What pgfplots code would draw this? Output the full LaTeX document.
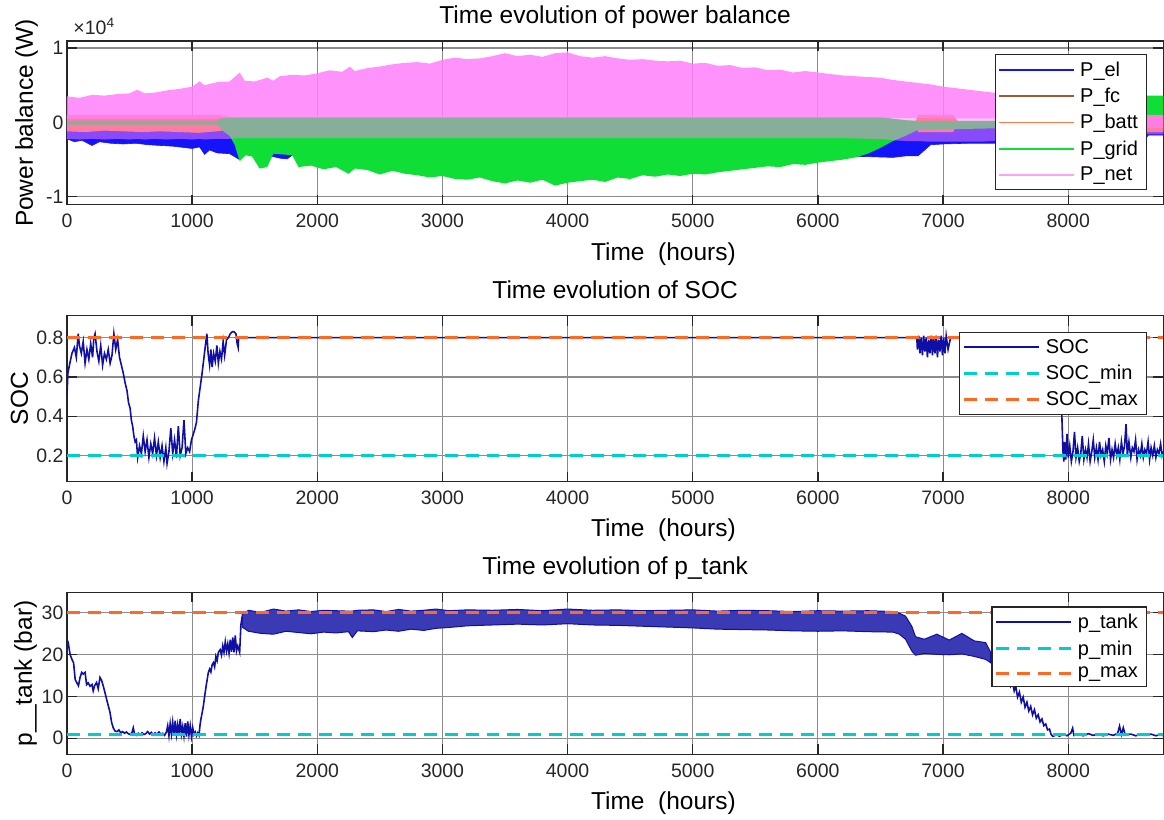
\documentclass[border=0pt]{standalone}
\usepackage{fontspec}
\setmainfont{Liberation Sans}
\usepackage{pgfplots}
\usepgfplotslibrary{fillbetween}
\pgfplotsset{compat=1.18}
\usepackage{pgfplotstable}

\definecolor{colel}{RGB}{20,20,250}
\definecolor{colfc}{RGB}{150,95,55}
\definecolor{colbatt}{RGB}{255,120,70}
\definecolor{colgrid}{RGB}{15,222,55}
\definecolor{colnet}{RGB}{255,128,250}
\definecolor{dkblue}{RGB}{15,15,165}
\definecolor{mincyan}{RGB}{0,205,205}
\definecolor{maxorange}{RGB}{255,105,35}

\newcommand\tickfont{\fontsize{19.5}{23}\selectfont}
\newcommand\labfont{\fontsize{24.5}{29}\selectfont}
\newcommand\legfont{\fontsize{20}{24}\selectfont}

% envelopes of the densely oscillating power series (W)
\pgfplotstableread{
t hi lo
0 0 -2200
60 0 -2600
120 0 -2400
200 0 -3100
260 0 -2600
350 0 -2800
450 0 -2900
550 0 -2800
650 0 -3000
750 0 -3100
850 0 -3200
950 0 -3400
1000 0 -3500
1060 0 -3300
1100 0 -4300
1140 0 -3700
1200 0 -4100
1300 0 -4200
1380 0 -5000
1420 0 -4300
1500 0 -4500
1600 0 -4400
1700 0 -4800
1760 0 -4900
1800 0 -4400
1900 0 -4000
2000 0 -4000
3000 0 -4000
4000 0 -4000
5000 0 -4000
5800 0 -4000
6000 0 -4300
6200 0 -4500
6400 0 -4600
6600 0 -4700
6700 0 -4500
6800 0 -4500
6900 0 -3000
7000 0 -2900
7200 0 -2800
7400 0 -2800
8000 0 -2800
8600 0 -2600
8640 0 -1700
8760 0 -1700
}\pel

\pgfplotstableread{
t hi lo
0 300 -300
1200 300 -300
}\pfc

\pgfplotstableread{
t hi lo
0 1000 -1200
150 1000 -1300
300 1000 -1100
450 1000 -1200
600 1000 -1300
750 1000 -1200
900 1000 -1300
1050 1000 -1400
1200 1000 -1200
1280 800 -1000
1350 100 -100
6780 100 -100
6800 1000 -1300
7080 1000 -1300
7120 100 -100
7930 100 -100
7960 1000 -1300
8760 1000 -1300
}\pbatt

\pgfplotstableread{
t hi lo
0 200 -300
1200 200 -300
1250 700 -1200
1300 700 -1800
1340 700 -3000
1380 700 -5200
1430 700 -4400
1480 700 -4600
1540 700 -6200
1600 700 -6000
1650 700 -4200
1720 700 -4300
1800 700 -4400
1850 700 -6000
1950 700 -5800
2050 700 -6300
2150 700 -6000
2250 700 -6900
2300 700 -6200
2400 700 -6400
2500 700 -7000
2600 700 -6500
2700 700 -6900
2800 700 -7100
2900 700 -7400
3000 700 -7200
3100 700 -7600
3200 700 -7700
3300 700 -7400
3400 700 -7900
3500 700 -8200
3600 700 -7800
3700 700 -8100
3800 700 -7700
3900 700 -8500
4000 700 -8100
4100 700 -7900
4200 700 -7700
4300 700 -8000
4400 700 -7400
4500 700 -7600
4600 700 -7100
4700 700 -7300
4800 700 -7000
4900 700 -7200
5000 700 -6900
5100 700 -7000
5200 700 -6700
5300 700 -6500
5400 700 -6300
5500 700 -6100
5600 700 -5900
5700 700 -6000
5800 700 -5600
5900 700 -5700
6000 700 -5400
6100 700 -5200
6200 700 -5000
6300 700 -4700
6400 700 -4200
6500 700 -3400
6600 500 -2500
6700 300 -1800
6800 200 -1000
8300 200 -500
8620 3600 1000
8760 3600 1000
}\pgrid

\pgfplotstableread{
t hi lo slo
0 3500 400 -2200
100 3300 400 -2300
200 3700 400 -2200
300 3600 400 -2300
400 3800 400 -2200
500 3900 400 -2300
560 4400 400 -2200
620 3900 400 -2300
700 4000 400 -2200
800 4300 400 -2300
900 4500 400 -2200
1000 4800 400 -2300
1060 5500 400 -2200
1100 5000 400 -2300
1200 5400 500 -2200
1300 5500 600 -2200
1380 6700 600 -2100
1420 5600 600 -2100
1500 5500 600 -2100
1600 6000 600 -2100
1650 5600 600 -2100
1700 6200 600 -2100
1800 6400 600 -2100
1900 6300 600 -2100
2000 6600 600 -2100
2100 7000 600 -2100
2200 6800 600 -2100
2260 7500 600 -2100
2300 6900 600 -2100
2400 7300 600 -2100
2500 7500 600 -2100
2600 7800 600 -2100
2700 8000 600 -2100
2800 8100 600 -2100
2900 7900 600 -2100
3000 8400 600 -2100
3100 8700 600 -2100
3200 8500 600 -2100
3300 8600 600 -2100
3400 8900 600 -2100
3500 9300 600 -2100
3600 8900 600 -2100
3700 9100 600 -2100
3800 8800 600 -2100
3900 9300 600 -2100
4000 9400 600 -2100
4100 8900 600 -2100
4200 8700 600 -2100
4300 8900 600 -2100
4400 8600 600 -2100
4500 8400 600 -2100
4600 8500 600 -2100
4700 8300 600 -2100
4800 8200 600 -2100
4900 8300 600 -2100
5000 7900 600 -2100
5100 8000 600 -2100
5200 7600 600 -2100
5300 7700 600 -2100
5400 7300 600 -2100
5500 7400 600 -2100
5600 7000 600 -2100
5700 7100 600 -2100
5800 6700 600 -2100
5900 6900 600 -2100
6000 6700 600 -2100
6200 6300 600 -2100
6400 6100 600 -2200
6500 6000 600 -2200
6600 5700 600 -2400
6700 5500 600 -2500
6800 5300 600 -2500
6900 5100 600 -2600
7000 4800 500 -2600
7100 4600 500 -2600
7200 4400 500 -2600
7300 4200 500 -2600
7400 4000 500 -2500
7600 3700 500 -2000
8000 3300 500 -1600
8500 3000 500 -1600
8620 1000 -800 -1600
8760 1000 -800 -1600
}\pnet

% dense part of the tank pressure (bar)
\pgfplotstableread{
t hi lo
1400 29.5 26.5
1450 30.5 25.5
1550 30.0 25.0
1650 30.8 24.8
1750 30.3 25.5
1850 30.6 25.2
1950 30.2 24.9
2050 30.5 25.3
2150 30.4 25.1
2250 30.3 25.4
2280 30.3 24.0
2320 30.5 25.6
2450 30.6 25.4
2550 30.2 25.8
2650 30.7 25.5
2750 30.3 26.0
2850 30.5 25.7
2950 30.8 26.2
3050 30.4 26.4
3200 30.6 26.8
3400 30.5 27.0
3600 30.7 27.2
3800 30.4 27.0
4000 30.8 27.3
4200 30.5 27.0
4400 30.6 26.9
4600 30.4 26.7
4800 30.5 26.5
5000 30.6 26.3
5200 30.3 26.0
5400 30.5 25.9
5600 30.4 25.8
5800 30.2 25.6
6000 30.4 25.5
6200 30.3 25.6
6400 30.4 25.4
6600 30.2 25.3
6650 29.8 24.8
6700 29.1 23.6
6750 26.7 20.8
6780 24.2 19.8
6850 23.6 20.2
6950 24.8 20.0
7050 23.4 19.9
7150 25.0 20.1
7250 23.2 19.5
7340 22.8 18.8
7380 20.5 18.0
}\ptband

\pgfplotsset{
  matlab/.style={
    scale only axis, width=1097.6pt,
    xmin=0, xmax=8760, xtick={0,1000,...,8000},
    scaled x ticks=false,
    /pgf/number format/1000 sep={},
    /pgf/number format/assume math mode=true,
    grid=major,
    major grid style={black!45, line width=1.1pt},
    axis line style={black!85, line width=1.3pt},
    tick style={black!85, line width=1.3pt},
    major tick length=10pt,
    tick label style={font=\tickfont, text=black!85},
    xticklabel style={yshift=-6pt},
    label style={font=\labfont},
    title style={font=\labfont},
    every axis y label/.style={rotate=90, anchor=base, font=\labfont},
    legend cell align=left,
    legend style={draw=black!85, line width=1.3pt, fill=white, font=\legfont,
      text=black, anchor=north east, nodes={inner sep=5.2pt}, row sep=0pt},
    legend image code/.code={\draw[##1] (0pt,0pt) -- (75pt,0pt);},
  }
}

\begin{document}
\begin{tikzpicture}

% ---------------- power balance ----------------
\begin{axis}[matlab, name=top, axis on top, at={(67pt,-41pt)}, anchor=north west,
  height=164pt, ymin=-11070, ymax=10940, ytick={-10000,0,10000},
  scaled y ticks=base 10:-4, ytick scale label code/.code={},
  title={Time evolution of power balance},
  title style={at={(axis description cs:0.5,1.070)}, anchor=base},
  xlabel={Time~~(hours)},
  xlabel style={at={(axis description cs:0.544,-0.338)}, anchor=base},
  ylabel={Power balance (W)},
  ylabel style={at={(axis description cs:-0.031,0.5)}},
  legend style={at={(axis description cs:0.9849,0.9207)}}]
\addplot[draw=none, forget plot, name path=elh] table[x=t,y=hi]{\pel};
\addplot[draw=none, forget plot, name path=ell] table[x=t,y=lo]{\pel};
\addplot[fill=colel, draw=colel, line width=0.6pt, forget plot] fill between[of=elh and ell];
\addplot[draw=none, forget plot, name path=fch] table[x=t,y=hi]{\pfc};
\addplot[draw=none, forget plot, name path=fcl] table[x=t,y=lo]{\pfc};
\addplot[fill=colfc, draw=none, forget plot] fill between[of=fch and fcl];
\addplot[draw=none, forget plot, name path=bah] table[x=t,y=hi]{\pbatt};
\addplot[draw=none, forget plot, name path=bal] table[x=t,y=lo]{\pbatt};
\addplot[fill=colbatt, draw=none, forget plot] fill between[of=bah and bal];
\addplot[draw=none, forget plot, name path=grh] table[x=t,y=hi]{\pgrid};
\addplot[draw=none, forget plot, name path=grl] table[x=t,y=lo]{\pgrid};
\addplot[fill=colgrid, draw=none, forget plot] fill between[of=grh and grl];
\addplot[draw=none, forget plot, name path=neh] table[x=t,y=hi]{\pnet};
\addplot[draw=none, forget plot, name path=nel] table[x=t,y=lo]{\pnet};
\addplot[draw=none, forget plot, name path=nes] table[x=t,y=slo]{\pnet};
\addplot[fill=colnet, fill opacity=0.5, draw=none, forget plot] fill between[of=nel and nes];
\addplot[fill=colnet, fill opacity=0.85, draw=none, forget plot] fill between[of=neh and nel];
\addlegendimage{draw=colel, line width=1.6pt}\addlegendentry{P\_el}
\addlegendimage{draw=colfc, line width=1.6pt}\addlegendentry{P\_fc}
\addlegendimage{draw=colbatt, line width=1.6pt}\addlegendentry{P\_batt}
\addlegendimage{draw=colgrid, line width=1.6pt}\addlegendentry{P\_grid}
\addlegendimage{draw=colnet!75!white, line width=1.6pt}\addlegendentry{P\_net}
\end{axis}
\node[anchor=base west, font=\tickfont, text=black!85, xshift=3pt, yshift=6pt] at (top.north west) {×10\textsuperscript{4}};

% ---------------- SOC ----------------
\begin{axis}[matlab, at={(67pt,-316pt)}, anchor=north west,
  height=166pt, ymin=0.068, ymax=0.912, ytick={0.2,0.4,0.6,0.8},
  title={Time evolution of SOC},
  title style={at={(axis description cs:0.5,1.069)}, anchor=base},
  xlabel={Time~~(hours)},
  xlabel style={at={(axis description cs:0.544,-0.334)}, anchor=base},
  ylabel={SOC},
  ylabel style={at={(axis description cs:-0.0356,0.5)}},
  legend style={at={(axis description cs:0.9849,0.9036)}}]
\addplot[dkblue, line width=1.6pt] coordinates {
(0,0.50) (8,0.62) (20,0.66) (40,0.72) (60,0.75) (75,0.70) (90,0.82) (100,0.76)
(115,0.72) (130,0.78) (145,0.67) (160,0.74) (175,0.69) (190,0.77) (205,0.70)
(215,0.80) (225,0.82) (240,0.73) (255,0.68) (270,0.76) (285,0.66) (300,0.72)
(315,0.69) (330,0.74) (345,0.67) (360,0.71) (375,0.82) (390,0.74) (405,0.79)
(420,0.70) (435,0.66) (450,0.62) (465,0.57) (480,0.53) (492,0.47) (505,0.44)
(515,0.38) (525,0.35) (535,0.30) (545,0.27) (555,0.28) (565,0.19) (580,0.25)
(595,0.21) (610,0.30) (625,0.22) (640,0.28) (655,0.19) (670,0.26) (685,0.21)
(700,0.29) (715,0.20) (730,0.27) (745,0.19) (760,0.25) (775,0.17) (790,0.24)
(800,0.16) (815,0.22) (830,0.34) (845,0.21) (860,0.28) (875,0.19) (890,0.35)
(905,0.20) (920,0.24) (935,0.38) (950,0.21) (965,0.24) (980,0.22) (995,0.28)
(1005,0.30) (1020,0.33) (1035,0.37) (1050,0.48) (1065,0.55) (1080,0.62)
(1095,0.70) (1110,0.78) (1118,0.82) (1128,0.72) (1140,0.66) (1150,0.74)
(1160,0.65) (1172,0.72) (1185,0.68) (1198,0.76) (1210,0.67) (1222,0.73)
(1235,0.69) (1248,0.78) (1260,0.71) (1275,0.79) (1290,0.80) (1305,0.82)
(1320,0.83) (1335,0.83) (1350,0.82) (1360,0.77) (1368,0.75) (1372,0.80)
(6790,0.80) (6795,0.74) (6805,0.81) (6815,0.72) (6825,0.80) (6835,0.71)
(6845,0.81) (6855,0.73) (6865,0.80) (6875,0.70) (6885,0.79) (6895,0.72)
(6905,0.81) (6915,0.71) (6925,0.80) (6935,0.72) (6945,0.81) (6955,0.70)
(6965,0.79) (6975,0.73) (6985,0.81) (6995,0.71) (7005,0.80) (7015,0.72)
(7025,0.81) (7040,0.74) (7060,0.80) (7940,0.80) (7950,0.38) (7958,0.22)
(7965,0.17) (7970,0.27) (7980,0.18) (7990,0.31) (8000,0.19) (8012,0.25)
(8025,0.17) (8038,0.22) (8050,0.32) (8062,0.19) (8075,0.24) (8088,0.17)
(8100,0.21) (8112,0.30) (8125,0.18) (8138,0.23) (8150,0.19) (8162,0.26)
(8175,0.17) (8188,0.22) (8200,0.28) (8212,0.19) (8225,0.24) (8238,0.18)
(8250,0.27) (8262,0.20) (8275,0.23) (8288,0.17) (8300,0.25) (8312,0.21)
(8325,0.29) (8338,0.18) (8350,0.23) (8362,0.19) (8375,0.26) (8388,0.20)
(8400,0.24) (8412,0.18) (8425,0.27) (8438,0.21) (8450,0.25) (8462,0.36)
(8472,0.20) (8485,0.27) (8500,0.19) (8512,0.24) (8525,0.22) (8538,0.28)
(8550,0.18) (8562,0.23) (8575,0.20) (8588,0.26) (8600,0.19) (8612,0.23)
(8625,0.21) (8638,0.27) (8650,0.18) (8662,0.24) (8675,0.20) (8688,0.25)
(8700,0.19) (8712,0.23) (8725,0.21) (8738,0.26) (8750,0.20) (8760,0.22)
};
\addlegendentry{SOC}
\addplot[mincyan, line width=3pt, dash pattern=on 13pt off 8pt] coordinates {(0,0.2) (8760,0.2)};
\addlegendentry{SOC\_min}
\addplot[maxorange, line width=3pt, dash pattern=on 13pt off 8pt] coordinates {(0,0.8) (8760,0.8)};
\addlegendentry{SOC\_max}
\end{axis}

% ---------------- tank pressure ----------------
\begin{axis}[matlab, at={(67pt,-593pt)}, anchor=north west,
  height=162pt, ymin=-3.8, ymax=34.76, ytick={0,10,20,30},
  title={Time evolution of p\_tank},
  title style={at={(axis description cs:0.5,1.071)}, anchor=base},
  xlabel={Time~~(hours)},
  xlabel style={at={(axis description cs:0.544,-0.343)}, anchor=base},
  ylabel={p\_\_tank (bar)},
  ylabel style={at={(axis description cs:-0.0319,0.5)}},
  legend style={at={(axis description cs:0.9849,0.9136)}}]
\addplot[draw=none, forget plot, name path=tkh] table[x=t,y=hi]{\ptband};
\addplot[draw=none, forget plot, name path=tkl] table[x=t,y=lo]{\ptband};
\addplot[fill=dkblue!82!white, draw=dkblue, line width=1pt, forget plot] fill between[of=tkh and tkl];
\addplot[dkblue, line width=1.6pt] coordinates {
(0,23.6) (10,22.8) (25,20) (40,18.8) (53,18) (66,14) (80,13.2) (92,12.5)
(105,14.5) (118,15.7) (130,15.3) (145,15.7) (157,12.8) (170,13.2) (185,12.4)
(200,12.8) (210,11.3) (222,12.6) (237,13.3) (250,11.8) (264,14.5) (277,13.8)
(290,12.5) (303,11) (317,9.3) (330,7.8) (344,6.2) (357,3.8) (370,2.5) (384,1.75)
(400,1.6) (415,2.0) (430,1.3) (445,1.6) (460,1.2) (475,1.5) (490,1.1) (505,0.9)
(520,1.4) (530,2.5) (540,1.0) (555,0.7) (570,1.2) (585,0.8) (600,1.3) (615,0.9)
(630,1.1) (645,1.6) (660,1.0) (675,1.4) (690,0.8) (705,1.3) (720,0.9) (735,1.5)
(750,1.0) (765,1.2) (780,0.7) (795,1.5) (805,3.0) (815,0.6) (825,3.5) (835,1.0)
(845,3.8) (855,0.8) (865,4.2) (875,0.9) (885,3.2) (895,0.7) (905,4.6) (915,1.0)
(925,2.8) (935,0.5) (945,3.6) (955,0.4) (965,4.0) (975,0.8) (985,3.0) (995,0.4)
(1005,2.5) (1015,0.9) (1025,1.5) (1035,0.6) (1045,1.3) (1055,0.7) (1064,3.3)
(1070,4.5) (1080,6) (1090,7.7) (1104,10.8) (1115,13) (1130,15.7) (1140,16.5)
(1150,15.8) (1160,17.5) (1170,18) (1180,17) (1190,19.5) (1200,18.5) (1210,20.5)
(1224,21.1) (1235,19.8) (1245,22) (1255,20.5) (1265,23) (1275,20.8) (1285,22.5)
(1295,20.3) (1305,23.5) (1315,20.6) (1325,24) (1335,20.5) (1345,24.5)
(1355,20.8) (1365,22) (1380,20.5) (1390,27) (1400,29)
};
\addlegendentry{p\_tank}
\addplot[dkblue, line width=1.6pt, forget plot] coordinates {
(7380,19) (7400,20.5) (7420,17.5) (7440,19) (7460,16) (7480,17.5) (7500,14.5)
(7520,16) (7540,12.5) (7555,13.5) (7568,11.3) (7580,12.5) (7595,9.8) (7610,11)
(7625,8.6) (7640,9.8) (7655,7.4) (7670,8.6) (7685,6.5) (7700,7.6) (7715,5.6)
(7730,6.8) (7745,4.8) (7760,5.6) (7775,3.9) (7790,4.6) (7805,3.0) (7820,3.4)
(7835,2.0) (7850,2.2) (7862,1.0) (7875,0.5) (7890,0.6) (7905,0.9) (7930,0.5)
(7960,1.0) (7990,0.6) (8020,1.2) (8035,2.4) (8045,0.7) (8080,1.0) (8120,0.6)
(8160,1.1) (8200,0.7) (8240,1.0) (8280,0.6) (8320,1.0) (8360,0.7) (8395,1.2)
(8410,2.9) (8425,0.9) (8440,2.5) (8455,0.8) (8500,1.0) (8540,0.6) (8580,1.0)
(8620,0.7) (8660,1.0) (8700,0.6) (8740,0.9) (8760,0.6)
};
\addplot[mincyan, line width=3pt, dash pattern=on 13pt off 8pt] coordinates {(0,1) (8760,1)};
\addlegendentry{p\_min}
\addplot[maxorange, line width=3pt, dash pattern=on 13pt off 8pt] coordinates {(0,30) (8760,30)};
\addlegendentry{p\_max}
\end{axis}
\path (0pt,0pt) rectangle (1164pt,-820pt);
\end{tikzpicture}
\end{document}
